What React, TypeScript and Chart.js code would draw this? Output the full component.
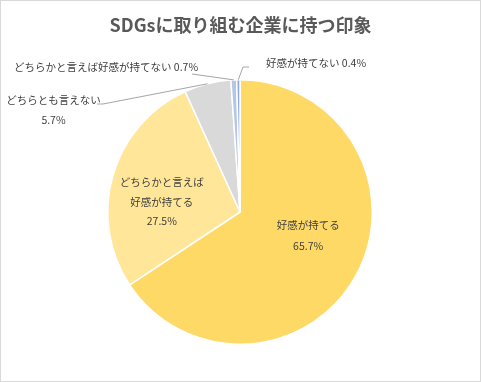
import React, { useEffect, useRef } from "react";
import { Chart, registerables } from "chart.js";

Chart.register(...registerables);

const chartTitle = "SDGsに取り組む企業に持つ印象";
const categories = [
  "好感が持てる",
  "どちらかと言えば好感が持てる",
  "どちらとも言えない",
  "どちらかと言えば好感が持てない",
  "好感が持てない",
];
const values = [65.7, 27.5, 5.7, 0.7, 0.4];
const colors = ["#FFD966", "#FFE699", "#D9D9D9", "#B4C7E7", "#8FAADC"];

const FONT = '"Noto Sans CJK JP", "Noto Sans", sans-serif';

type LabelSpec =
  | { kind: "inside"; f: number; dy: number; lines: (c: string, v: string) => string[] }
  | {
      kind: "outside";
      tx: number;
      ty: number;
      lines: (c: string, v: string) => string[];
      leader: [number, number][];
    };

const labelSpecs: LabelSpec[] = [
  { kind: "inside", f: 0.585, dy: -13, lines: (c, v) => [c, v] },
  {
    kind: "inside",
    f: 0.615,
    dy: 12,
    lines: (c, v) => [c.slice(0, 8), c.slice(8), v],
  },
  {
    kind: "outside",
    tx: -186.5,
    ty: -112,
    lines: (c, v) => [c, v],
    leader: [
      [-143, -108],
      [-137, -108],
    ],
  },
  {
    kind: "outside",
    tx: -134,
    ty: -145,
    lines: (c, v) => [c + " " + v],
    leader: [[-48, -138]],
  },
  {
    kind: "outside",
    tx: 76,
    ty: -149,
    lines: (c, v) => [c + " " + v],
    leader: [
      [9, -145],
      [3, -145],
    ],
  },
];

const decorPlugin = {
  id: "decor",
  beforeDraw(chart: any) {
    const ctx = chart.ctx;
    ctx.save();
    ctx.fillStyle = "#ffffff";
    ctx.fillRect(0, 0, chart.width, chart.height);
    ctx.strokeStyle = "#D9D9D9";
    ctx.lineWidth = 1;
    ctx.strokeRect(0.5, 0.5, chart.width - 1, chart.height - 1);
    ctx.fillStyle = "#595959";
    ctx.font = `bold 18px ${FONT}`;
    ctx.textAlign = "center";
    ctx.textBaseline = "middle";
    ctx.fillText(chartTitle, chart.width / 2, 25.5);
    ctx.restore();
  },
  afterDraw(chart: any) {
    const ctx = chart.ctx;
    const meta = chart.getDatasetMeta(0);
    ctx.save();
    ctx.font = `10.5px ${FONT}`;
    ctx.textAlign = "center";
    ctx.textBaseline = "middle";
    meta.data.forEach((arc: any, i: number) => {
      const p = arc.getProps(["x", "y", "startAngle", "endAngle", "outerRadius"], true);
      const mid = (p.startAngle + p.endAngle) / 2;
      const spec = labelSpecs[i];
      const lines = spec.lines(categories[i], values[i].toFixed(1) + "%");
      if (spec.kind === "inside") {
        const lh = lines.length === 2 ? 21 : 19.5;
        const ax = p.x + Math.cos(mid) * p.outerRadius * spec.f;
        const ay = p.y + Math.sin(mid) * p.outerRadius * spec.f + spec.dy;
        ctx.fillStyle = "#404040";
        lines.forEach((l, k) => {
          ctx.fillText(l, ax, ay + (k - (lines.length - 1) / 2) * lh);
        });
      } else {
        const ex = p.x + Math.cos(mid) * p.outerRadius;
        const ey = p.y + Math.sin(mid) * p.outerRadius;
        ctx.strokeStyle = "#A6A6A6";
        ctx.lineWidth = 1;
        ctx.beginPath();
        spec.leader.forEach(([dx, dy], k) => {
          if (k === 0) ctx.moveTo(p.x + dx, p.y + dy);
          else ctx.lineTo(p.x + dx, p.y + dy);
        });
        ctx.lineTo(ex, ey);
        ctx.stroke();
        ctx.fillStyle = "#404040";
        const lh = 20;
        lines.forEach((l, k) => {
          ctx.fillText(l, p.x + spec.tx, p.y + spec.ty + k * lh);
        });
      }
    });
    ctx.restore();
  },
};

export default function App() {
  const ref = useRef<HTMLCanvasElement>(null);
  useEffect(() => {
    if (!ref.current) return;
    const chart = new Chart(ref.current, {
      type: "pie",
      data: {
        labels: categories,
        datasets: [
          {
            data: values,
            backgroundColor: colors,
            borderColor: "#ffffff",
            borderWidth: 1.5,
            hoverOffset: 0,
          },
        ],
      },
      options: {
        animation: false,
        responsive: true,
        maintainAspectRatio: false,
        layout: { padding: { top: 79, bottom: 37, left: 107, right: 108 } },
        plugins: {
          legend: { display: false },
          title: { display: false },
          tooltip: { enabled: false },
        },
      },
      plugins: [decorPlugin],
    });
    return () => chart.destroy();
  }, []);
  return (
    <div style={{ position: "fixed", left: 0, top: 0, width: 481, height: 382 }}>
      <canvas ref={ref} />
    </div>
  );
}
